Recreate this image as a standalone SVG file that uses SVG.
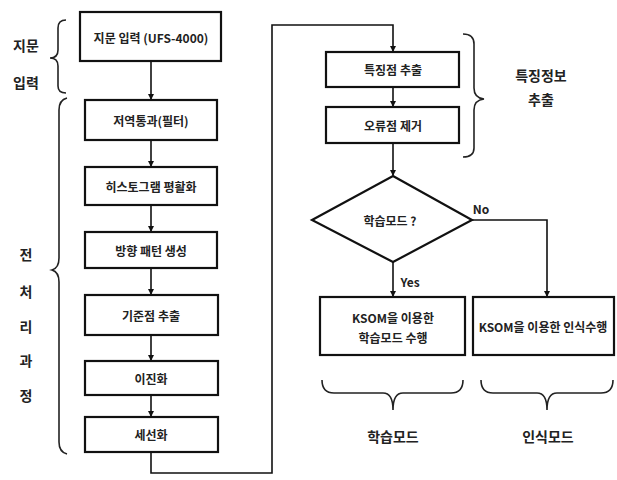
<svg xmlns="http://www.w3.org/2000/svg" width="617" height="480" viewBox="0 0 617 480">
<style>
.box{fill:#fff;stroke:#111;stroke-width:2.2}
.t{font-family:"Noto Sans CJK KR","Noto Sans",sans-serif;font-size:12px;font-weight:bold;fill:#222;text-anchor:middle;dominant-baseline:central}
.lb{font-family:"Noto Sans CJK KR","Noto Sans",sans-serif;font-size:14px;font-weight:bold;fill:#222;text-anchor:middle;dominant-baseline:central}
.ln{fill:none;stroke:#111;stroke-width:1.6}
.br{fill:none;stroke:#222;stroke-width:1.6}
</style>
<defs>
<marker id="ar" markerWidth="6" markerHeight="6" refX="5" refY="3" orient="auto" markerUnits="userSpaceOnUse">
<path d="M0,0 L6,3 L0,6 z" fill="#111"/>
</marker>
</defs>
<g id="connectors">
<line class="ln" x1="151" y1="61" x2="151" y2="99" marker-end="url(#ar)"/>
<line class="ln" x1="151" y1="140" x2="151" y2="166" marker-end="url(#ar)"/>
<line class="ln" x1="151" y1="205" x2="151" y2="231" marker-end="url(#ar)"/>
<line class="ln" x1="151" y1="268" x2="151" y2="294" marker-end="url(#ar)"/>
<line class="ln" x1="151" y1="335" x2="151" y2="360" marker-end="url(#ar)"/>
<line class="ln" x1="151" y1="395" x2="151" y2="416" marker-end="url(#ar)"/>
<polyline class="ln" points="151,452 151,473 272,473 272,25 393,25 393,51" marker-end="url(#ar)"/>
<line class="ln" x1="393" y1="87" x2="393" y2="106" marker-end="url(#ar)"/>
<line class="ln" x1="393" y1="143" x2="393" y2="175" marker-end="url(#ar)"/>
<line class="ln" x1="393" y1="262" x2="393" y2="296" marker-end="url(#ar)"/>
<polyline class="ln" points="472,220 547,220 547,296" marker-end="url(#ar)"/>
</g>
<g id="n1"><rect class="box" x="80" y="12" width="141" height="49"/><text class="t" x="151" y="37">지문 입력 (UFS-4000)</text></g>
<g id="n2"><rect class="box" x="85" y="100" width="132" height="40"/><text class="t" x="151" y="120">저역통과(필터)</text></g>
<g id="n3"><rect class="box" x="85" y="167" width="132" height="38"/><text class="t" x="151" y="186">히스토그램 평활화</text></g>
<g id="n4"><rect class="box" x="85" y="232" width="132" height="36"/><text class="t" x="151" y="250">방향 패턴 생성</text></g>
<g id="n5"><rect class="box" x="85" y="295" width="133" height="40"/><text class="t" x="151" y="315">기준점 추출</text></g>
<g id="n6"><rect class="box" x="85" y="361" width="133" height="34"/><text class="t" x="151" y="378">이진화</text></g>
<g id="n7"><rect class="box" x="85" y="417" width="133" height="35"/><text class="t" x="151" y="434">세선화</text></g>
<g id="n8"><rect class="box" x="326" y="52" width="133" height="35"/><text class="t" x="393" y="69">특징점 추출</text></g>
<g id="n9"><rect class="box" x="326" y="107" width="133" height="36"/><text class="t" x="393" y="125">오류점 제거</text></g>
<g id="n10"><polygon class="box" points="393,176 472,220 393,262 312,220"/><text class="t" x="390" y="220">학습모드 ?</text></g>
<g id="n11"><rect class="box" x="320" y="297" width="145" height="58"/><text class="t" x="393" y="317">KSOM을 이용한</text><text class="t" x="393" y="337">학습모드 수행</text></g>
<g id="n12"><rect class="box" x="473" y="297" width="141" height="58"/><text class="t" x="543" y="326">KSOM을 이용한 인식수행</text></g>
<g id="labels">
<text class="t" x="410" y="281">Yes</text>
<text class="t" x="481" y="208">No</text>
<text class="lb" x="26" y="45">지문</text>
<text class="lb" x="26" y="82">입력</text>
<text class="lb" x="26" y="254">전</text>
<text class="lb" x="26" y="291">처</text>
<text class="lb" x="26" y="326">리</text>
<text class="lb" x="26" y="360">과</text>
<text class="lb" x="26" y="395">정</text>
<text class="lb" x="541" y="75">특징정보</text>
<text class="lb" x="541" y="99">추출</text>
<text class="lb" x="393" y="436">학습모드</text>
<text class="lb" x="548" y="436">인식모드</text>
</g>
<g id="braces">
<path class="br" d="M66,20 Q58,20 58,28 L58,50 Q58,58 50,58 Q58,58 58,66 L58,86 Q58,93 66,93"/>
<path class="br" d="M67,98 Q59,100 59,110 L59,258 Q59,268 52,270 Q59,272 59,282 L59,442 Q59,452 67,454"/>
<path class="br" d="M463,34 Q474,34 474,44 L474,88 Q474,98 484,99 Q474,100 474,110 L474,148 Q474,157 463,157"/>
<path class="br" d="M322,380 Q322,393 334,393 L383,393 Q393,393 393,410 Q393,393 403,393 L451,393 Q463,393 463,380"/>
<path class="br" d="M481,380 Q481,393 493,393 L537,393 Q547,393 547,410 Q547,393 557,393 L601,393 Q613,393 613,380"/>
</g>
</svg>
